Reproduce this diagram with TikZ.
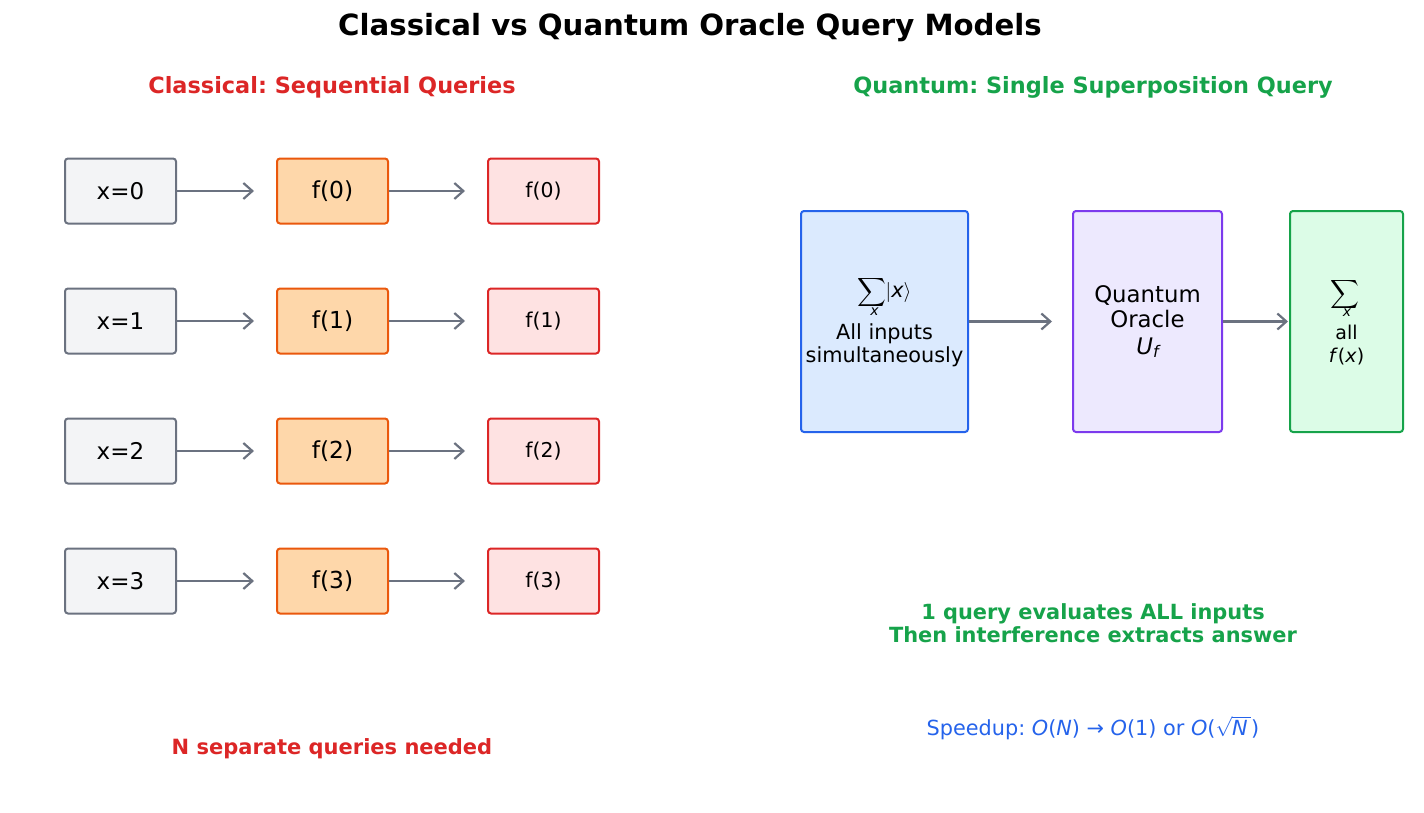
\documentclass[tikz,border=0pt]{standalone}
\usepackage{fontspec}
\setmainfont{DejaVu Sans}
\usetikzlibrary{arrows.meta}
\definecolor{grayB}{HTML}{6B7280}
\definecolor{grayF}{HTML}{F3F4F6}
\definecolor{orB}{HTML}{EA580C}
\definecolor{orF}{HTML}{FED7AA}
\definecolor{redB}{HTML}{DC2626}
\definecolor{redF}{HTML}{FEE2E2}
\definecolor{bluB}{HTML}{2563EB}
\definecolor{bluF}{HTML}{DBEAFE}
\definecolor{purB}{HTML}{7C3AED}
\definecolor{purF}{HTML}{EDE9FE}
\definecolor{grnB}{HTML}{16A34A}
\definecolor{grnF}{HTML}{DCFCE7}
\frenchspacing
\newcommand{\subx}{\mbox{\fontsize{7}{7}\selectfont\itshape x}}
\tikzset{
  box/.style={draw, line width=1pt, rounded corners=1.5pt, inner sep=0pt, align=center},
  inbox/.style={box, draw=grayB, fill=grayF, minimum width=55.5pt, minimum height=32.5pt, font=\fontsize{11.5}{13}\selectfont},
  fbox/.style={box, draw=orB, fill=orF, minimum width=55.5pt, minimum height=32.5pt, font=\fontsize{11.7}{13}\selectfont},
  outbox/.style={box, draw=redB, fill=redF, minimum width=55.5pt, minimum height=32.5pt, font=\fontsize{10.2}{12}\selectfont},
  conn/.style={draw=grayB, line width=1.1pt, -{Straight Barb[length=4.5pt,width=8pt,line width=1.1pt]}},
}
\begin{document}
\begin{tikzpicture}[x=0.5pt,y=-0.5pt]
\useasboundingbox (0,0) rectangle (1424,813);
\node (title) at (690,28) {\fontsize{14.6}{17}\selectfont\bfseries Classical vs Quantum Oracle Query Models};
\node[text=redB] (clt) at (332,87) {\fontsize{11.2}{13}\selectfont\bfseries Classical: Sequential Queries};
\node[text=grnB] (qt) at (1093,87) {\fontsize{11.2}{13}\selectfont\bfseries Quantum: Single Superposition Query};

\foreach \i/\y in {0/191,1/321,2/451,3/581}{
  \node[inbox] (x\i) at (120.5,\y) {x=\i};
  \node[fbox] (f\i) at (332.5,\y) {f(\i)};
  \node[outbox] (o\i) at (543.5,\y) {f(\i)};
  \coordinate (a\i) at (254,\y);
  \coordinate (b\i) at (465,\y);
  \draw[conn] (x\i.east) -- (a\i);
  \draw[conn] (f\i.east) -- (b\i);
}

\node[box, draw=bluB, fill=bluF, minimum width=83.5pt, minimum height=110.5pt, font=\fontsize{10.4}{11.5}\selectfont] (sup) at (884.5,321.5)
  {$\displaystyle\sum\nolimits\hspace{-9.8pt}\raisebox{-9pt}{\subx}\hspace{3.6pt}|\mbox{\itshape x}\rangle$\\[3pt]All inputs\\simultaneously};
\node[box, draw=purB, fill=purF, minimum width=74.5pt, minimum height=110.5pt, font=\fontsize{11.4}{12.5}\selectfont] (orc) at (1147.5,321.5)
  {Quantum\\Oracle\\[1pt]\textit{U}\raisebox{-1.5pt}{\fontsize{8}{8}\selectfont\itshape f}};
\node[box, draw=grnB, fill=grnF, minimum width=56.5pt, minimum height=110.5pt, font=\fontsize{9.5}{11.5}\selectfont] (res) at (1346.5,321.5)
  {$\displaystyle\sum\nolimits\hspace{-9.8pt}\raisebox{-9pt}{\subx}\hspace{5.8pt}$\\[3pt]all\\\textit{f}(\textit{x})};
\coordinate (c1) at (1052,321.5);
\coordinate (c2) at (1288,321.5);
\draw[conn] (sup.east) -- (c1);
\draw[conn] (orc.east) -- (c2);

\node[text=grnB, align=center, font=\fontsize{10.45}{11.5}\selectfont\bfseries] (note) at (1093,623.5) {1 query evaluates ALL inputs\\Then interference extracts answer};
\node[text=bluB, font=\fontsize{10.4}{12}\selectfont] (speed) at (1093,728) {Speedup: \textit{O}(\textit{N}) → \textit{O}(1) or \textit{O}($\sqrt{\mbox{\itshape N\,}}$)};
\node[text=redB, font=\fontsize{10.5}{11.5}\selectfont\bfseries] (need) at (332,749) {N separate queries needed};
\end{tikzpicture}
\end{document}
